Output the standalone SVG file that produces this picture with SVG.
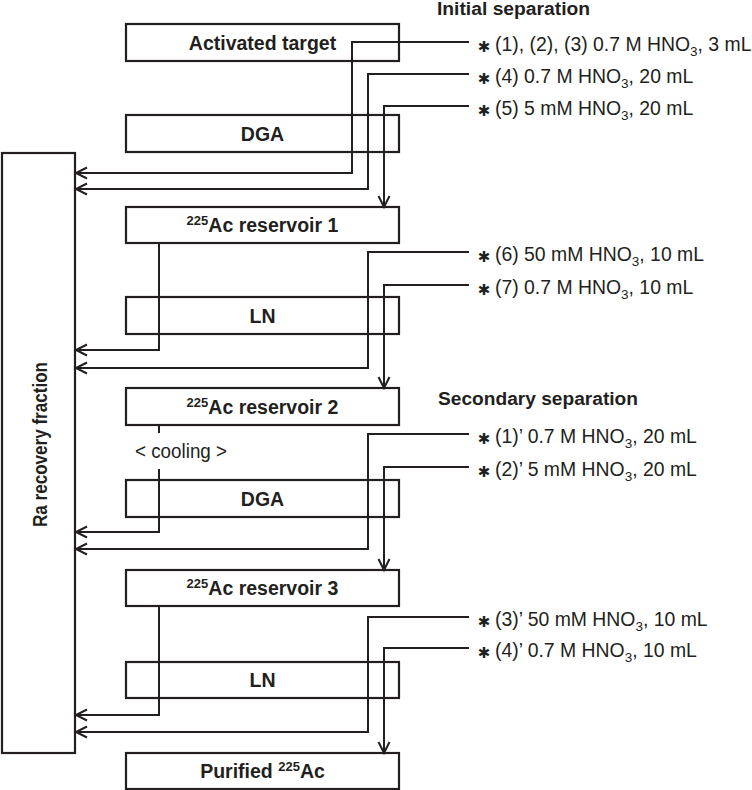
<svg xmlns="http://www.w3.org/2000/svg" width="752" height="790" viewBox="0 0 752 790">
<style>
.box{fill:none;stroke:#231f20;stroke-width:2.2}
.lbl{font-family:"Liberation Sans",Arial,sans-serif;font-weight:bold;font-size:19.5px;fill:#231f20;text-anchor:middle}
.sup{font-size:13px}
.con{fill:none;stroke:#231f20;stroke-width:2}
.arr{marker-end:url(#chev)}
.note{font-family:"Liberation Sans",Arial,sans-serif;font-size:19.4px;fill:#231f20}
.sub{font-size:13.5px}
.ast{font-family:"DejaVu Sans",sans-serif;font-size:15px;fill:#231f20;text-anchor:middle}
.title{font-family:"Liberation Sans",Arial,sans-serif;font-weight:bold;font-size:17.5px;fill:#231f20}
</style>
<defs>
<marker id="chev" markerUnits="userSpaceOnUse" markerWidth="14" markerHeight="14" refX="12" refY="6.5" orient="auto" overflow="visible">
<path d="M1,1 L12,6.5 L1,12" fill="none" stroke="#231f20" stroke-width="2"/>
</marker>
</defs>
<rect width="752" height="790" fill="#fff"/>

<g id="ra-fraction">
<rect class="box" x="2" y="153" width="73" height="600"/>
<text class="lbl" transform="translate(47,444.5) rotate(-90)" x="0" y="0" font-size="20" textLength="165" lengthAdjust="spacingAndGlyphs">Ra recovery fraction</text>
</g>
<g id="activated-target">
<rect class="box" x="126" y="24" width="273" height="37"/>
<text class="lbl" x="262.5" y="49.5">Activated target</text>
</g>
<g id="dga-1">
<rect class="box" x="126" y="115" width="273" height="37"/>
<text class="lbl" x="262.5" y="140.5">DGA</text>
</g>
<g id="reservoir-1">
<rect class="box" x="126" y="207" width="273" height="36"/>
<text class="lbl" x="262.5" y="232"><tspan class="sup" dy="-7">225</tspan><tspan dy="7">Ac reservoir 1</tspan></text>
</g>
<g id="ln-1">
<rect class="box" x="126" y="297" width="273" height="37"/>
<text class="lbl" x="262.5" y="322.5">LN</text>
</g>
<g id="reservoir-2">
<rect class="box" x="126" y="388" width="273" height="37"/>
<text class="lbl" x="262.5" y="413.5"><tspan class="sup" dy="-7">225</tspan><tspan dy="7">Ac reservoir 2</tspan></text>
</g>
<g id="dga-2">
<rect class="box" x="126" y="480" width="273" height="37"/>
<text class="lbl" x="262.5" y="505.5">DGA</text>
</g>
<g id="reservoir-3">
<rect class="box" x="126" y="570" width="273" height="36"/>
<text class="lbl" x="262.5" y="595"><tspan class="sup" dy="-7">225</tspan><tspan dy="7">Ac reservoir 3</tspan></text>
</g>
<g id="ln-2">
<rect class="box" x="126" y="662" width="273" height="36"/>
<text class="lbl" x="262.5" y="687">LN</text>
</g>
<g id="purified">
<rect class="box" x="126" y="753" width="273" height="36"/>
<text class="lbl" x="262.5" y="778">Purified <tspan class="sup" dy="-7">225</tspan><tspan dy="7">Ac</tspan></text>
</g>

<g id="titles">
<text class="title" x="437" y="14.5" textLength="153" lengthAdjust="spacingAndGlyphs">Initial separation</text>
<text class="title" x="438" y="405" textLength="200" lengthAdjust="spacingAndGlyphs">Secondary separation</text>
</g>

<g id="connectors">
<path class="con arr" d="M469,42 H352 V173 H76"/>
<path class="con arr" d="M469,74 H368 V189 H76"/>
<path class="con arr" d="M469,106 H384 V207"/>
<path class="con arr" d="M159,243 V350 H76"/>
<path class="con arr" d="M469,252 H368 V368 H76"/>
<path class="con arr" d="M469,285 H384 V388"/>
<path class="con" d="M159,425 V433"/>
<path class="con arr" d="M159,469 V532 H76"/>
<path class="con arr" d="M469,434 H368 V549 H76"/>
<path class="con arr" d="M469,467 H384 V570"/>
<path class="con arr" d="M159,606 V715 H76"/>
<path class="con arr" d="M469,617 H368 V732 H76"/>
<path class="con arr" d="M469,648 H384 V753"/>
</g>

<g id="cooling">
<text class="note" x="181" y="458" text-anchor="middle" font-size="18" textLength="92" lengthAdjust="spacingAndGlyphs">&lt; cooling &gt;</text>
</g>

<g id="reagents">
<text class="ast" x="484" y="52">✱</text>
<text class="note" x="495" y="51">(1), (2), (3) 0.7 M HNO<tspan class="sub" dy="5">3</tspan><tspan dy="-5">, 3 mL</tspan></text>
<text class="ast" x="484" y="84">✱</text>
<text class="note" x="495" y="83">(4) 0.7 M HNO<tspan class="sub" dy="5">3</tspan><tspan dy="-5">, 20 mL</tspan></text>
<text class="ast" x="484" y="116">✱</text>
<text class="note" x="495" y="115">(5) 5 mM HNO<tspan class="sub" dy="5">3</tspan><tspan dy="-5">, 20 mL</tspan></text>
<text class="ast" x="484" y="262">✱</text>
<text class="note" x="495" y="261">(6) 50 mM HNO<tspan class="sub" dy="5">3</tspan><tspan dy="-5">, 10 mL</tspan></text>
<text class="ast" x="484" y="295">✱</text>
<text class="note" x="495" y="294">(7) 0.7 M HNO<tspan class="sub" dy="5">3</tspan><tspan dy="-5">, 10 mL</tspan></text>
<text class="ast" x="484" y="444">✱</text>
<text class="note" x="495" y="443">(1)’ 0.7 M HNO<tspan class="sub" dy="5">3</tspan><tspan dy="-5">, 20 mL</tspan></text>
<text class="ast" x="484" y="477">✱</text>
<text class="note" x="495" y="476">(2)’ 5 mM HNO<tspan class="sub" dy="5">3</tspan><tspan dy="-5">, 20 mL</tspan></text>
<text class="ast" x="484" y="627">✱</text>
<text class="note" x="495" y="626">(3)’ 50 mM HNO<tspan class="sub" dy="5">3</tspan><tspan dy="-5">, 10 mL</tspan></text>
<text class="ast" x="484" y="658">✱</text>
<text class="note" x="495" y="657">(4)’ 0.7 M HNO<tspan class="sub" dy="5">3</tspan><tspan dy="-5">, 10 mL</tspan></text>
</g>
</svg>
